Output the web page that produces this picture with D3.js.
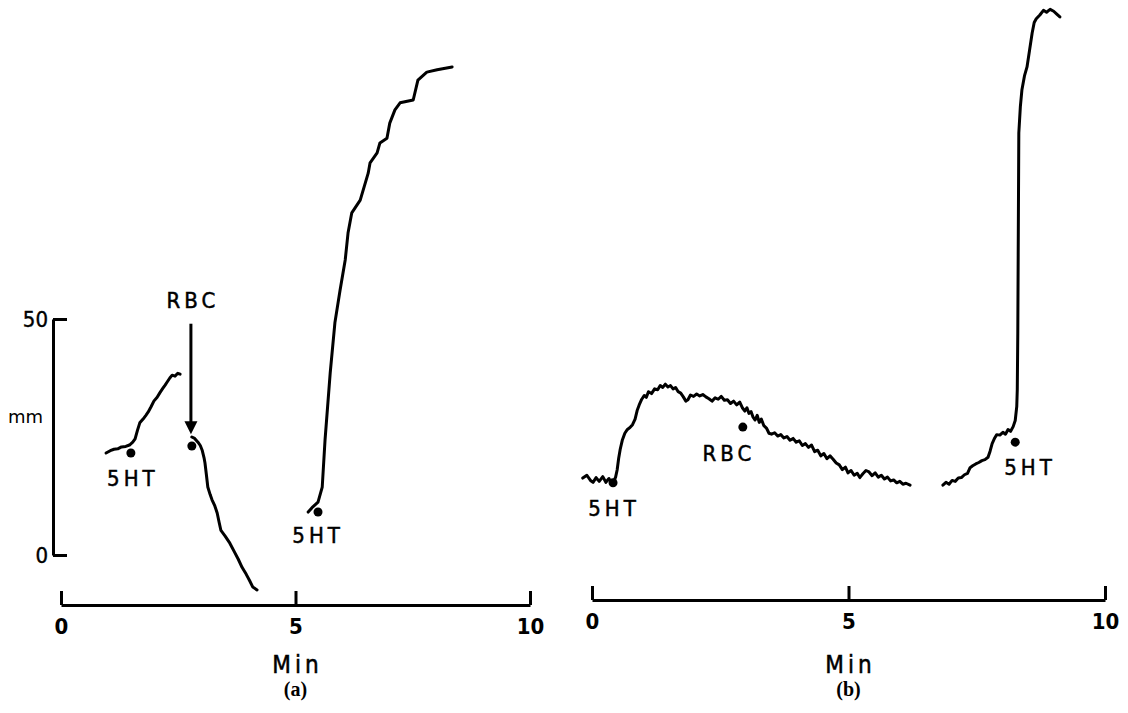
<!DOCTYPE html>
<html><head><meta charset="utf-8">
<script src="https://cdn.jsdelivr.net/npm/d3@7"></script>
<style>
body{margin:0;background:#fff;}
svg{display:block;}
.lbl{font-family:"DejaVu Sans Condensed","DejaVu Sans",sans-serif;font-size:22px;fill:#000;stroke:#000;stroke-width:0.5px;letter-spacing:4px;}
.tick text{font-family:"DejaVu Sans Condensed","DejaVu Sans",sans-serif;font-size:22px;font-weight:bold;fill:#000;}
</style></head>
<body>
<script>
// ---- data (time in min, deflection in mm) ----
const xTicks = [0, 5, 10];
const yTicks = [0, 50];
const traceA1 = [[0.96,21.6],[1.05,22.1],[1.13,22.4],[1.21,22.5],[1.29,22.9],[1.38,23.0],[1.46,23.3],[1.53,23.9],[1.58,24.6],[1.63,26.4],[1.68,28.0],[1.75,28.8],[1.81,29.6],[1.86,30.3],[1.92,31.4],[1.98,32.6],[2.05,33.4],[2.11,34.4],[2.17,35.3],[2.22,36.0],[2.26,36.6],[2.32,37.5],[2.37,38.1],[2.43,37.9],[2.49,38.5],[2.54,38.3]];
const traceA2 = [[2.79,25.0],[2.85,24.7],[2.92,23.9],[2.97,23.2],[3.01,22.2],[3.05,20.6],[3.07,19.5],[3.10,17.0],[3.13,14.4],[3.18,12.8],[3.22,11.7],[3.28,10.4],[3.33,8.9],[3.37,7.0],[3.41,5.2],[3.50,4.0],[3.60,2.5],[3.70,0.6],[3.78,-0.9],[3.86,-2.6],[3.95,-4.1],[4.02,-5.4],[4.09,-6.8],[4.18,-7.4]];
const traceA3 = [[5.27,9.1],[5.37,10.2],[5.48,11.2],[5.57,14.4],[5.63,24.4],[5.74,38.6],[5.84,49.2],[5.95,56.1],[6.06,62.5],[6.12,68.2],[6.20,72.5],[6.38,75.2],[6.55,80.9],[6.59,83.1],[6.74,85.2],[6.80,87.3],[6.95,88.3],[7.01,91.5],[7.12,94.3],[7.23,95.8],[7.51,96.4],[7.61,100.6],[7.80,102.3],[8.02,102.8],[8.34,103.4]];
const traceB1 = [[-0.18,16.3],[-0.10,16.9],[-0.03,15.8],[0.02,15.4],[0.08,16.4],[0.14,15.6],[0.21,16.6],[0.27,15.4],[0.33,16.2],[0.38,15.2],[0.42,15.5],[0.46,16.5],[0.49,18.0],[0.52,20.5],[0.55,22.4],[0.59,24.3],[0.64,25.8],[0.69,26.6],[0.74,27.0],[0.79,27.6],[0.84,28.8],[0.88,30.6],[0.92,31.8],[0.97,33.0],[1.02,33.8],[1.06,33.4],[1.10,34.6],[1.16,34.2],[1.22,35.2],[1.28,35.0],[1.33,35.9],[1.38,35.5],[1.43,36.2],[1.48,35.6],[1.53,35.9],[1.58,35.2],[1.63,35.5],[1.68,34.6],[1.73,34.3],[1.78,33.5],[1.83,32.6],[1.87,32.9],[1.92,33.9],[1.98,33.6],[2.04,34.1],[2.10,33.7],[2.16,34.0],[2.22,33.5],[2.28,33.1],[2.34,32.6],[2.40,33.3],[2.46,33.0],[2.52,33.6],[2.58,32.8],[2.64,32.9],[2.70,32.1],[2.76,32.6],[2.82,31.8],[2.88,32.4],[2.93,31.2],[2.98,30.5],[3.02,31.2],[3.06,30.0],[3.10,30.4],[3.14,29.2],[3.18,28.6],[3.22,29.6],[3.26,28.1],[3.30,28.8],[3.35,27.4],[3.40,26.9],[3.45,25.8],[3.50,25.6],[3.56,25.9],[3.62,25.2],[3.68,25.5],[3.74,24.8],[3.80,25.1],[3.86,24.3],[3.92,24.7],[3.98,23.9],[4.04,24.2],[4.10,23.2],[4.16,23.6],[4.22,22.8],[4.28,23.3],[4.34,21.9],[4.40,22.2],[4.46,21.0],[4.52,21.5],[4.58,20.4],[4.64,21.0],[4.70,20.3],[4.76,19.5],[4.82,19.1],[4.88,18.1],[4.94,18.6],[4.99,17.4],[5.05,17.9],[5.11,16.9],[5.17,17.3],[5.22,16.4],[5.28,17.2],[5.34,17.9],[5.40,17.6],[5.46,16.8],[5.52,17.4],[5.58,16.5],[5.64,16.9],[5.70,16.1],[5.76,16.5],[5.82,15.7],[5.88,15.9],[5.94,15.3],[6.00,15.6],[6.06,15.0],[6.12,15.2],[6.20,14.8]];
const traceB2 = [[6.84,14.8],[6.90,15.4],[6.96,15.0],[7.02,15.8],[7.08,15.6],[7.14,16.3],[7.20,16.4],[7.26,17.0],[7.32,17.3],[7.37,18.5],[7.42,18.9],[7.48,19.3],[7.54,19.6],[7.60,20.0],[7.66,20.2],[7.72,20.7],[7.76,22.0],[7.80,23.6],[7.85,24.8],[7.89,25.5],[7.95,25.4],[8.01,26.0],[8.06,25.6],[8.11,26.6],[8.16,26.2],[8.21,27.2],[8.25,28.5],[8.28,31.5],[8.29,35.0],[8.30,47.0],[8.31,68.2],[8.32,89.4],[8.35,95.0],[8.38,98.5],[8.43,101.5],[8.48,103.4],[8.53,107.0],[8.58,110.6],[8.62,112.8],[8.66,113.6],[8.73,114.4],[8.80,115.4],[8.86,115.0],[8.93,115.6],[9.00,115.2],[9.06,114.6],[9.12,114.0]];
const dotsA = [[1.49,21.6],[2.79,23.1],[5.48,9.1]];
const dotsB = [[0.41,15.3],[2.94,27.1],[8.25,23.9]];
const labelsA = [{t:"5HT",x:1.49,y:16.3},{t:"RBC",x:2.77,y:54.0},{t:"5HT",x:5.44,y:4.2}];
const labelsB = [{t:"5HT",x:0.39,y:10.0},{t:"RBC",x:2.63,y:21.6},{t:"5HT",x:8.50,y:18.6}];
const arrowA = {x:2.77, y0:49.0, y1:25.6};

const W=1128,H=713;
const svg=d3.select("body").append("svg").attr("width",W).attr("height",H);
const xA=d3.scaleLinear().domain([0,10]).range([61,530]);
const xB=d3.scaleLinear().domain([0,10]).range([592,1105]);
const y=d3.scaleLinear().domain([0,50]).range([555,319]);
const SW=3;

function drawPanel(x, axisY, labY, traces, dots, labels, name){
  const g=svg.append("g");
  const ax=g.append("g").attr("transform",`translate(0,${axisY})`)
    .call(d3.axisBottom(x).tickValues(xTicks).tickSizeInner(-14).tickSizeOuter(0).tickPadding(labY));
  ax.select(".domain").attr("stroke","#000").attr("stroke-width",SW);
  ax.selectAll(".tick line").attr("stroke","#000").attr("stroke-width",SW);
  ax.selectAll(".tick text").attr("dy","0.71em");
  const line=d3.line().x(d=>x(d[0])).y(d=>y(d[1])).curve(d3.curveLinear);
  g.selectAll("path.trace").data(traces).enter().append("path").attr("class","trace")
    .attr("d",line).attr("fill","none").attr("stroke","#000").attr("stroke-width",SW)
    .attr("stroke-linejoin","round").attr("stroke-linecap","round");
  g.selectAll("circle").data(dots).enter().append("circle")
    .attr("cx",d=>x(d[0])).attr("cy",d=>y(d[1])).attr("r",4.5).attr("fill","#000");
  g.selectAll("text.lbl").data(labels).enter().append("text").attr("class","lbl")
    .attr("x",d=>x(d.x)+2).attr("y",d=>y(d.y)).attr("dy","0.36em").attr("text-anchor","middle").text(d=>d.t);
  const cx=(x.range()[0]+x.range()[1])/2;
  g.append("text").attr("class","lbl").attr("x",cx+2).attr("y",673).attr("text-anchor","middle")
    .style("font-size","24px").text("Min");
  g.append("text").attr("x",cx).attr("y",696).attr("text-anchor","middle")
    .style("font-family","'Liberation Serif',serif").style("font-weight","bold").style("font-size","20px").text(name);
}
drawPanel(xA,605,13,[traceA1,traceA2,traceA3],dotsA,labelsA,"(a)");
drawPanel(xB,600,13,[traceB1,traceB2],dotsB,labelsB,"(b)");

// y axis for (a)
const yAx=svg.append("g").attr("transform","translate(53,0)")
  .call(d3.axisLeft(y).tickValues(yTicks).tickSizeInner(-14).tickSizeOuter(0).tickPadding(5));
yAx.select(".domain").attr("stroke","#000").attr("stroke-width",SW);
yAx.selectAll(".tick line").attr("stroke","#000").attr("stroke-width",SW);
yAx.selectAll(".tick text").style("font-weight","normal").style("stroke","#000").style("stroke-width","0.4px");
svg.append("text").attr("x",8).attr("y",423).style("font-family","'DejaVu Sans',sans-serif").style("font-size","18px").text("mm");

// RBC arrow (a)
const ax0=xA(arrowA.x);
svg.append("line").attr("x1",ax0).attr("x2",ax0).attr("y1",y(arrowA.y0)).attr("y2",y(arrowA.y1)-10)
  .attr("stroke","#000").attr("stroke-width",SW);
svg.append("path").attr("d",`M${ax0-6.5},${y(arrowA.y1)-13}L${ax0+6.5},${y(arrowA.y1)-13}L${ax0},${y(arrowA.y1)}Z`).attr("fill","#000");
</script>
</body></html>
